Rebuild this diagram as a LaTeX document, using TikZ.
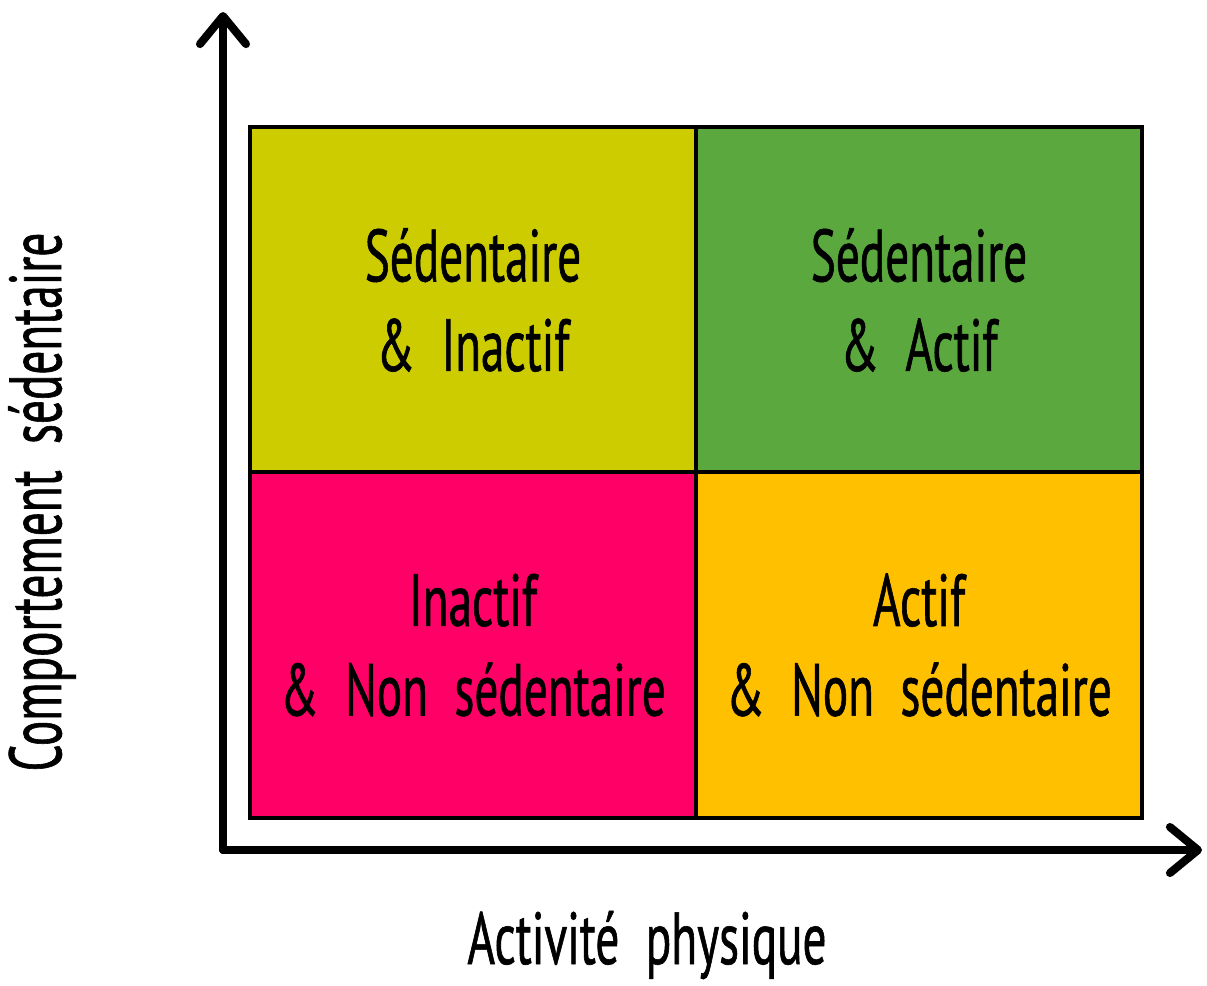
\documentclass[tikz,border=0pt]{standalone}
\usepackage{fontspec}
\usepackage{xcolor}
\usepackage{tikz}
\usetikzlibrary{arrows.meta, positioning}
\newfontfamily\gillfont[FakeStretch=0.64, WordSpace={2.1}, FakeBold=0.8]{PT Sans}
\definecolor{olive}{HTML}{CCCC00}
\definecolor{leaf}{HTML}{5BA83F}
\definecolor{rose}{HTML}{FF0066}
\definecolor{amber}{HTML}{FFC000}

\begin{document}
\begin{tikzpicture}[
    x=0.1mm, y=-0.1mm,
    cell/.style={rectangle, draw=black, line width=0.9pt, minimum width=44.6mm, minimum height=34.6mm, align=center, inner sep=0pt, font=\gillfont\fontsize{21}{25.5}\selectfont},
    axis/.style={line width=2.3pt, line cap=round, -{Straight Barb[length=2.8mm, width=4.6mm, line cap=round, line join=round]}},
    label/.style={font=\gillfont\fontsize{21}{25.5}\selectfont},
]
\useasboundingbox (0,0) rectangle (1207,985);

% Quadrants
\node[cell, fill=olive] (sedinact) at (473,300) {Sédentaire\\\& Inactif};
\node[cell, fill=leaf] (sedact) at (919,300) {Sédentaire\\\& Actif};
\node[cell, fill=rose] (inact) at (473,645) {Inactif\\\& Non sédentaire};
\node[cell, fill=amber] (act) at (919,645) {Actif\\\& Non sédentaire};

% Axes
\coordinate (origin) at (223,850);
\coordinate (ytip) at (223,12);
\coordinate (xtip) at (1202,850);
\draw[axis] (origin) -- (ytip);
\draw[axis] (origin) -- (xtip);

% Axis labels
\node[label, rotate=90] (ylab) at (42,502) {Comportement sédentaire};
\node[label] (xlab) at (647,945) {Activité physique};

\end{tikzpicture}
\end{document}
